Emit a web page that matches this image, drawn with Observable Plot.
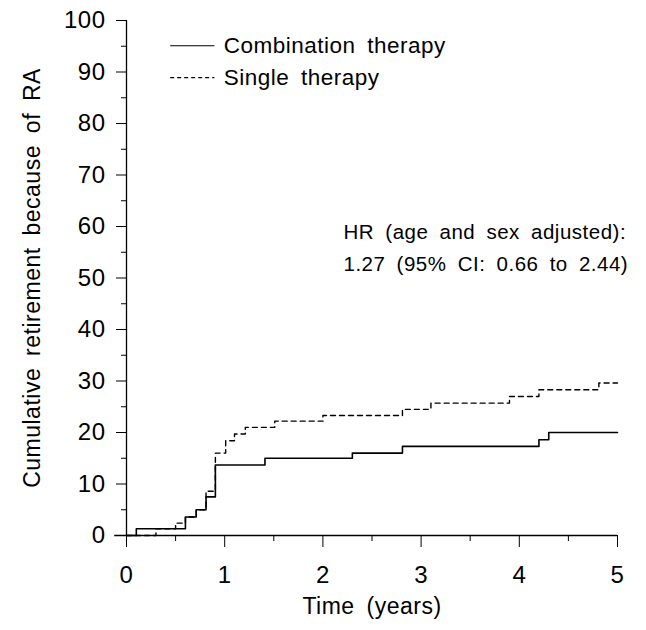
<!DOCTYPE html>
<html>
<head>
<meta charset="utf-8">
<script src="https://cdn.jsdelivr.net/npm/d3@7"></script>
<script src="https://cdn.jsdelivr.net/npm/@observablehq/plot@0.6"></script>
<style>
  html, body { margin: 0; padding: 0; background: #fff; }
  #chart svg { font-family: "Liberation Sans", Arial, sans-serif; }
</style>
</head>
<body>
<div id="chart"></div>
<script>
// Combination therapy (solid) – step times (years) and cumulative %
const comboTime  = [0, 0.10, 0.60, 0.71, 0.81, 0.905, 1.41, 2.30, 2.81, 4.20, 4.30, 5.0];
const comboValue = [0, 1.3,  3.6,  5.0,  7.5,  13.7,  15.0, 16.0, 17.3, 18.6, 20.0, 20.0];
// Single therapy (dashed)
const singleTime  = [0, 0.30, 0.50, 0.60, 0.71, 0.81, 0.905, 1.01, 1.10, 1.21, 1.51, 2.00, 2.81, 3.10, 3.90, 4.20, 4.81, 5.0];
const singleValue = [0, 1.3,  2.4,  3.6,  5.0,  8.6,  16.0,  18.4, 19.7, 21.0, 22.2, 23.3, 24.5, 25.7, 27.0, 28.3, 29.6, 29.6];

const xMajor = [0, 1, 2, 3, 4, 5];
const xMinor = [0.5, 1.5, 2.5, 3.5, 4.5];
const yMajor = [0, 10, 20, 30, 40, 50, 60, 70, 80, 90, 100];
const yMinor = [5, 15, 25, 35, 45, 55, 65, 75, 85, 95];

const seriesNames = ["Combination therapy", "Single therapy"];
const annotation = ["HR (age and sex adjusted):", "1.27 (95% CI: 0.66 to 2.44)"];
const xLabel = "Time (years)";
const yLabel = "Cumulative retirement because of RA";

const combo = comboTime.map((t, i) => ({t, v: comboValue[i]}));
const single = singleTime.map((t, i) => ({t, v: singleValue[i]}));

const chart = Plot.plot({
  width: 646,
  height: 630,
  marginLeft: 126,
  marginRight: 29,
  marginTop: 20,
  marginBottom: 95,
  style: {fontSize: "22px", color: "#000", background: "#fff", wordSpacing: "5px", letterSpacing: "0.5px"},
  x: {domain: [0, 5]},
  y: {domain: [0, 100]},
  marks: [
    // axis lines
    Plot.ruleX([0], {y1: 0, y2: 100, stroke: "#000", strokeWidth: 1.3}),
    Plot.ruleY([0], {x1: -0.12, x2: 5, stroke: "#000", strokeWidth: 1.3}),
    // x axis
    Plot.axisX({ticks: xMajor, tickSize: 12, tickPadding: 18, tickFormat: d => String(d), fontSize: 24,
      label: null, stroke: "#000", fill: "#000"}),
    Plot.axisX({ticks: xMinor, tickSize: 6, tickFormat: () => "", label: null, stroke: "#000"}),
    // y axis
    Plot.axisY({ticks: yMajor, tickSize: 10, tickPadding: 11, tickFormat: d => String(d), fontSize: 24,
      label: null, stroke: "#000", fill: "#000"}),
    Plot.axisY({ticks: yMinor, tickSize: 5, tickFormat: () => "", label: null, stroke: "#000"}),
    // axis titles
    Plot.text([xLabel], {frameAnchor: "bottom", dy: 78, fontSize: 23, fill: "#000"}),
    Plot.text([yLabel], {frameAnchor: "left", textAnchor: "middle", dx: -94, rotate: -90, fontSize: 23, fill: "#000"}),
    // curves
    Plot.line(combo, {x: "t", y: "v", curve: "step-after", stroke: "#000", strokeWidth: 1.6}),
    Plot.line(single, {x: "t", y: "v", curve: "step-after", stroke: "#000", strokeWidth: 1.4, strokeDasharray: "5,4"}),
    // legend
    Plot.ruleY([95.1], {x1: 0.45, x2: 0.9, stroke: "#000", strokeWidth: 1.2}),
    Plot.ruleY([88.9], {x1: 0.45, x2: 0.9, stroke: "#000", strokeWidth: 1.2, strokeDasharray: "4,3"}),
    Plot.text([seriesNames[0]], {x: 0.99, y: 95.1, textAnchor: "start", fontSize: 22.5, fill: "#000"}),
    Plot.text([seriesNames[1]], {x: 0.99, y: 88.9, textAnchor: "start", fontSize: 22.5, fill: "#000"}),
    // annotation
    Plot.text([annotation[0]], {x: 2.21, y: 58.8, textAnchor: "start", fontSize: 20.5, fill: "#000"}),
    Plot.text([annotation[1]], {x: 2.21, y: 52.6, textAnchor: "start", fontSize: 20.5, fill: "#000"})
  ]
});
document.getElementById("chart").appendChild(chart);
</script>
</body>
</html>
